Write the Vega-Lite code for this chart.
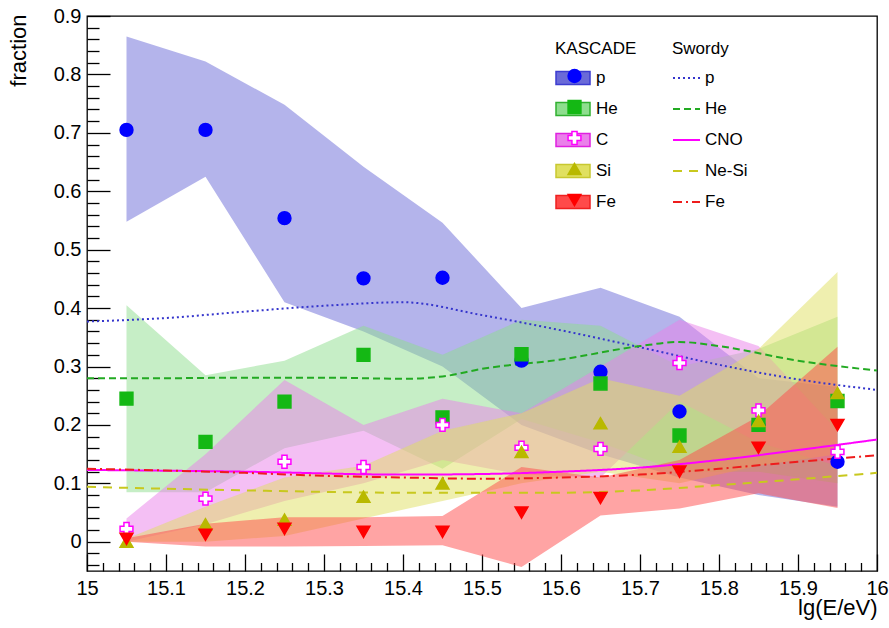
{
"$schema":"https://vega.github.io/schema/vega-lite/v6.json",
"width":790,"height":555,
"autosize":{"type":"none"},
"padding":{"left":87,"top":16,"right":12,"bottom":57},
"background":"white",
"config":{
"font":"Liberation Sans",
"view":{"stroke":"#000","strokeWidth":1.3},
"axis":{"domain":false,"tickColor":"#000","tickWidth":1.3,"labelColor":"#000","titleColor":"#000","labelFont":"Liberation Sans","titleFont":"Liberation Sans","labelFontSize":20,"titleFontSize":22,"titleFontWeight":"normal","grid":false,"labelOverlap":false,"labelFlush":false},
"legend":{"labelFont":"Liberation Sans","titleFont":"Liberation Sans","labelFontSize":17,"titleFontSize":17,"titleFontWeight":"normal","labelColor":"#000","titleColor":"#000","padding":0}
},
"datasets":{
"bands":[
{"x":15.05,"band":"p","lo":0.548,"hi":0.865},{"x":15.15,"band":"p","lo":0.625,"hi":0.822},{"x":15.25,"band":"p","lo":0.41,"hi":0.748},{"x":15.35,"band":"p","lo":0.36,"hi":0.642},{"x":15.45,"band":"p","lo":0.3,"hi":0.546},{"x":15.55,"band":"p","lo":0.2,"hi":0.4},{"x":15.65,"band":"p","lo":0.15,"hi":0.435},{"x":15.75,"band":"p","lo":0.11,"hi":0.385},{"x":15.85,"band":"p","lo":0.08,"hi":0.28},{"x":15.95,"band":"p","lo":0.06,"hi":0.265},
{"x":15.05,"band":"He","lo":0.085,"hi":0.405},{"x":15.15,"band":"He","lo":0.085,"hi":0.285},{"x":15.25,"band":"He","lo":0.16,"hi":0.31},{"x":15.35,"band":"He","lo":0.19,"hi":0.37},{"x":15.45,"band":"He","lo":0.125,"hi":0.32},{"x":15.55,"band":"He","lo":0.21,"hi":0.38},{"x":15.65,"band":"He","lo":0.17,"hi":0.37},{"x":15.75,"band":"He","lo":0.12,"hi":0.3},{"x":15.85,"band":"He","lo":0.12,"hi":0.33},{"x":15.95,"band":"He","lo":0.1,"hi":0.385},
{"x":15.05,"band":"C","lo":0.0,"hi":0.04},{"x":15.15,"band":"C","lo":0.03,"hi":0.15},{"x":15.25,"band":"C","lo":0.07,"hi":0.277},{"x":15.35,"band":"C","lo":0.1,"hi":0.2},{"x":15.45,"band":"C","lo":0.14,"hi":0.245},{"x":15.55,"band":"C","lo":0.115,"hi":0.22},{"x":15.65,"band":"C","lo":0.11,"hi":0.3},{"x":15.75,"band":"C","lo":0.24,"hi":0.38},{"x":15.85,"band":"C","lo":0.17,"hi":0.335},{"x":15.95,"band":"C","lo":0.13,"hi":0.19},
{"x":15.05,"band":"Si","lo":0.0,"hi":0.005},{"x":15.15,"band":"Si","lo":0.0,"hi":0.06},{"x":15.25,"band":"Si","lo":0.01,"hi":0.11},{"x":15.35,"band":"Si","lo":0.04,"hi":0.13},{"x":15.45,"band":"Si","lo":0.07,"hi":0.19},{"x":15.55,"band":"Si","lo":0.1,"hi":0.22},{"x":15.65,"band":"Si","lo":0.12,"hi":0.28},{"x":15.75,"band":"Si","lo":0.1,"hi":0.25},{"x":15.85,"band":"Si","lo":0.13,"hi":0.33},{"x":15.95,"band":"Si","lo":0.15,"hi":0.462},
{"x":15.05,"band":"Fe","lo":0.0,"hi":0.006},{"x":15.15,"band":"Fe","lo":-0.008,"hi":0.031},{"x":15.25,"band":"Fe","lo":-0.008,"hi":0.042},{"x":15.35,"band":"Fe","lo":-0.007,"hi":0.042},{"x":15.45,"band":"Fe","lo":-0.006,"hi":0.044},{"x":15.55,"band":"Fe","lo":-0.043,"hi":0.128},{"x":15.65,"band":"Fe","lo":0.045,"hi":0.11},{"x":15.75,"band":"Fe","lo":0.057,"hi":0.14},{"x":15.85,"band":"Fe","lo":0.083,"hi":0.215},{"x":15.95,"band":"Fe","lo":0.058,"hi":0.334}
],
"points":[
{"x":15.05,"el":"p","f":0.705},{"x":15.15,"el":"p","f":0.705},{"x":15.25,"el":"p","f":0.554},{"x":15.35,"el":"p","f":0.451},{"x":15.45,"el":"p","f":0.452},{"x":15.55,"el":"p","f":0.31},{"x":15.65,"el":"p","f":0.291},{"x":15.75,"el":"p","f":0.223},{"x":15.85,"el":"p","f":0.2},{"x":15.95,"el":"p","f":0.137},
{"x":15.05,"el":"He","f":0.245},{"x":15.15,"el":"He","f":0.171},{"x":15.25,"el":"He","f":0.24},{"x":15.35,"el":"He","f":0.32},{"x":15.45,"el":"He","f":0.213},{"x":15.55,"el":"He","f":0.321},{"x":15.65,"el":"He","f":0.271},{"x":15.75,"el":"He","f":0.182},{"x":15.85,"el":"He","f":0.2},{"x":15.95,"el":"He","f":0.241},
{"x":15.05,"el":"C","f":0.022},{"x":15.15,"el":"C","f":0.074},{"x":15.25,"el":"C","f":0.137},{"x":15.35,"el":"C","f":0.128},{"x":15.45,"el":"C","f":0.2},{"x":15.55,"el":"C","f":0.161},{"x":15.65,"el":"C","f":0.159},{"x":15.75,"el":"C","f":0.306},{"x":15.85,"el":"C","f":0.225},{"x":15.95,"el":"C","f":0.154},
{"x":15.05,"el":"Si","f":0.0},{"x":15.15,"el":"Si","f":0.03},{"x":15.25,"el":"Si","f":0.038},{"x":15.35,"el":"Si","f":0.077},{"x":15.45,"el":"Si","f":0.1},{"x":15.55,"el":"Si","f":0.154},{"x":15.65,"el":"Si","f":0.203},{"x":15.75,"el":"Si","f":0.163},{"x":15.85,"el":"Si","f":0.207},{"x":15.95,"el":"Si","f":0.255},
{"x":15.05,"el":"Fe","f":0.005},{"x":15.15,"el":"Fe","f":0.012},{"x":15.25,"el":"Fe","f":0.022},{"x":15.35,"el":"Fe","f":0.017},{"x":15.45,"el":"Fe","f":0.017},{"x":15.55,"el":"Fe","f":0.05},{"x":15.65,"el":"Fe","f":0.075},{"x":15.75,"el":"Fe","f":0.12},{"x":15.85,"el":"Fe","f":0.161},{"x":15.95,"el":"Fe","f":0.2}
],
"swordy":[
{"E":15.0,"model":"p","f":0.377},{"E":15.1,"model":"p","f":0.383},{"E":15.2,"model":"p","f":0.394},{"E":15.3,"model":"p","f":0.404},{"E":15.4,"model":"p","f":0.41},{"E":15.5,"model":"p","f":0.388},{"E":15.6,"model":"p","f":0.362},{"E":15.7,"model":"p","f":0.333},{"E":15.8,"model":"p","f":0.303},{"E":15.9,"model":"p","f":0.278},{"E":16.0,"model":"p","f":0.26},
{"E":15.0,"model":"He","f":0.28},{"E":15.1,"model":"He","f":0.28},{"E":15.2,"model":"He","f":0.281},{"E":15.3,"model":"He","f":0.281},{"E":15.4,"model":"He","f":0.279},{"E":15.45,"model":"He","f":0.283},{"E":15.5,"model":"He","f":0.296},{"E":15.6,"model":"He","f":0.312},{"E":15.7,"model":"He","f":0.335},{"E":15.75,"model":"He","f":0.342},{"E":15.8,"model":"He","f":0.335},{"E":15.9,"model":"He","f":0.31},{"E":16.0,"model":"He","f":0.293},
{"E":15.0,"model":"CNO","f":0.123},{"E":15.2,"model":"CNO","f":0.12},{"E":15.4,"model":"CNO","f":0.115},{"E":15.5,"model":"CNO","f":0.116},{"E":15.6,"model":"CNO","f":0.12},{"E":15.7,"model":"CNO","f":0.127},{"E":15.8,"model":"CNO","f":0.14},{"E":15.9,"model":"CNO","f":0.157},{"E":16.0,"model":"CNO","f":0.175},
{"E":15.0,"model":"Ne-Si","f":0.094},{"E":15.2,"model":"Ne-Si","f":0.088},{"E":15.4,"model":"Ne-Si","f":0.084},{"E":15.6,"model":"Ne-Si","f":0.084},{"E":15.7,"model":"Ne-Si","f":0.088},{"E":15.8,"model":"Ne-Si","f":0.097},{"E":15.9,"model":"Ne-Si","f":0.107},{"E":16.0,"model":"Ne-Si","f":0.118},
{"E":15.0,"model":"Fe","f":0.125},{"E":15.1,"model":"Fe","f":0.122},{"E":15.2,"model":"Fe","f":0.118},{"E":15.3,"model":"Fe","f":0.113},{"E":15.4,"model":"Fe","f":0.11},{"E":15.5,"model":"Fe","f":0.108},{"E":15.6,"model":"Fe","f":0.11},{"E":15.7,"model":"Fe","f":0.115},{"E":15.8,"model":"Fe","f":0.125},{"E":15.9,"model":"Fe","f":0.137},{"E":16.0,"model":"Fe","f":0.148}
]
},
"layer":[
{"data":{"name":"bands"},
"mark":{"type":"area","fillOpacity":0.5,"strokeWidth":0,"interpolate":"linear"},
"encoding":{
"x":{"field":"x","type":"quantitative","scale":{"domain":[15,16],"nice":false,"zero":false},
"axis":{"orient":"bottom","values":[15,15.1,15.2,15.3,15.4,15.5,15.6,15.7,15.8,15.9,16],"format":"~g","offset":-17,"tickSize":17,"labelPadding":7,"title":"lg(E/eV)","titleAnchor":"end","titleAlign":"right","titleX":790,"titleY":60,"titleBaseline":"alphabetic"}},
"y":{"field":"lo","type":"quantitative","scale":{"domain":[-0.05,0.9],"nice":false,"zero":false},
"axis":{"orient":"left","values":[0,0.1,0.2,0.3,0.4,0.5,0.6,0.7,0.8,0.9],"labelExpr":"datum.value==0 ? '0' : format(datum.value,'.1f')","offset":-23,"tickSize":23,"labelPadding":6,"title":"fraction","titleAnchor":"end","titleAngle":-90,"titleAlign":"right","titleBaseline":"middle","titleX":-92,"titleY":-2}},
"y2":{"field":"hi"},
"fill":{"field":"band","type":"nominal","scale":{"domain":["p","He","C","Si","Fe"],"range":["#6a6ad8","#8ede8e","#ea80ea","#e0e060","#ff4a4a"]},
"legend":{"title":"KASCADE","orient":"none","legendX":468,"legendY":25,"symbolType":"M-1,-0.38L1,-0.38L1,0.38L-1,0.38Z","symbolSize":1156,"symbolStrokeWidth":1.5,"titlePadding":2,"rowPadding":3,"labelOffset":5}},
"stroke":{"field":"band","type":"nominal","scale":{"domain":["p","He","C","Si","Fe"],"range":["#3c3cd0","#30b030","#e020e0","#c8c830","#ee2020"]},
"legend":{"title":"KASCADE","orient":"none","legendX":468,"legendY":25,"symbolType":"M-1,-0.38L1,-0.38L1,0.38L-1,0.38Z","symbolSize":1156,"symbolStrokeWidth":1.5,"titlePadding":2,"rowPadding":3,"labelOffset":5}}
}},
{"data":{"name":"swordy"},
"mark":{"type":"line","strokeWidth":2,"interpolate":"monotone"},
"encoding":{
"x":{"field":"E","type":"quantitative","scale":{"domain":[15,16],"nice":false,"zero":false},
"axis":{"orient":"bottom","values":[15.02,15.04,15.06,15.08,15.12,15.14,15.16,15.18,15.22,15.24,15.26,15.28,15.32,15.34,15.36,15.38,15.42,15.44,15.46,15.48,15.52,15.54,15.56,15.58,15.62,15.64,15.66,15.68,15.72,15.74,15.76,15.78,15.82,15.84,15.86,15.88,15.92,15.94,15.96,15.98],"labels":false,"title":null,"offset":-8.5,"tickSize":8.5}},
"y":{"field":"f","type":"quantitative","scale":{"domain":[-0.05,0.9],"nice":false,"zero":false},
"axis":{"orient":"left","values":[-0.04,-0.02,0.02,0.04,0.06,0.08,0.12,0.14,0.16,0.18,0.22,0.24,0.26,0.28,0.32,0.34,0.36,0.38,0.42,0.44,0.46,0.48,0.52,0.54,0.56,0.58,0.62,0.64,0.66,0.68,0.72,0.74,0.76,0.78,0.82,0.84,0.86,0.88],"labels":false,"title":null,"offset":-12,"tickSize":12}},
"stroke":{"field":"model","type":"nominal","scale":{"domain":["p","He","CNO","Ne-Si","Fe"],"range":["#3535cc","#22aa22","#ff00ff","#c8c81e","#ee1c1c"]},
"legend":{"title":"Swordy","orient":"none","legendX":585,"legendY":25,"symbolSize":729,"symbolStrokeWidth":2,"titlePadding":5.5,"rowPadding":8,"labelOffset":4}},
"strokeDash":{"field":"model","type":"nominal","scale":{"domain":["p","He","CNO","Ne-Si","Fe"],"range":[[2,3],[7,4],[1,0],[9,7],[9,4,2,4]]},
"legend":{"title":"Swordy","orient":"none","legendX":585,"legendY":25,"symbolSize":729,"symbolStrokeWidth":2,"titlePadding":5.5,"rowPadding":8,"labelOffset":4}}
}},
{"data":{"name":"points"},
"mark":{"type":"point","filled":true,"size":165,"strokeWidth":1.5,"opacity":1},
"encoding":{
"x":{"field":"x","type":"quantitative","scale":{"domain":[15,16],"nice":false,"zero":false},"axis":null},
"y":{"field":"f","type":"quantitative","scale":{"domain":[-0.05,0.9],"nice":false,"zero":false},"axis":null},
"fill":{"field":"el","type":"nominal","scale":{"domain":["p","He","C","Si","Fe"],"range":["#0000ff","#14b814","#ffffff","#b9b900","#ff0000"]},
"legend":{"title":null,"labelExpr":"''","orient":"none","legendX":479,"legendY":51.5,"symbolSize":165,"symbolStrokeWidth":1.5,"rowPadding":12}},
"stroke":{"field":"el","type":"nominal","scale":{"domain":["p","He","C","Si","Fe"],"range":["#0000ff","#14b814","#ff00ff","#b9b900","#ff0000"]},
"legend":{"title":null,"labelExpr":"''","orient":"none","legendX":479,"legendY":51.5,"symbolSize":165,"symbolStrokeWidth":1.5,"rowPadding":12}},
"shape":{"field":"el","type":"nominal","scale":{"domain":["p","He","C","Si","Fe"],"range":["circle","square","cross","triangle-up","triangle-down"]},
"legend":{"title":null,"labelExpr":"''","orient":"none","legendX":479,"legendY":51.5,"symbolSize":165,"symbolStrokeWidth":1.5,"rowPadding":12}}
}}
],
"resolve":{"scale":{"fill":"independent","stroke":"independent","shape":"independent","strokeDash":"independent"},"axis":{"x":"independent","y":"independent"}}
}
